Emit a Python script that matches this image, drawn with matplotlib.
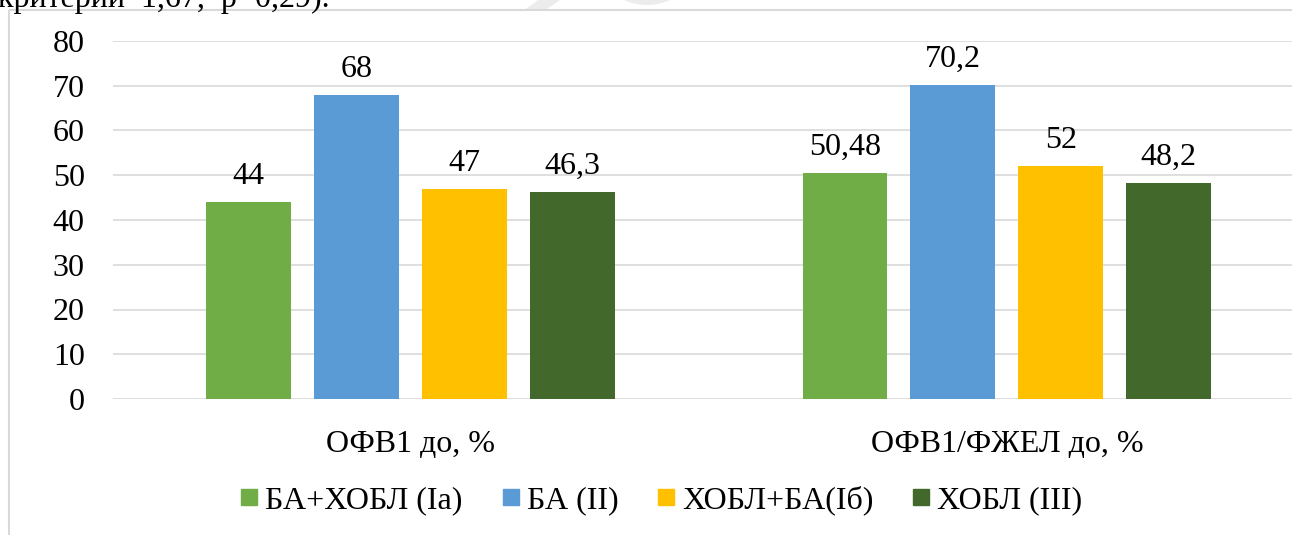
import matplotlib
matplotlib.use("Agg")
import matplotlib.pyplot as plt
import numpy as np
from matplotlib.patches import Rectangle, Circle, Polygon
from matplotlib.lines import Line2D
from matplotlib.transforms import Affine2D

plt.rcParams['font.family'] = ['Liberation Serif', 'DejaVu Serif']

categories = ["ОФВ1 до, %", "ОФВ1/ФЖЕЛ до, %"]
series_names = ["БА+ХОБЛ (Ia)", "БА (II)", "ХОБЛ+БА(Iб)", "ХОБЛ (III)"]
values_ia = [44, 50.48]
values_ii = [68, 70.2]
values_ib = [47, 52]
values_iii = [46.3, 48.2]
label_ia = ["44", "50,48"]
label_ii = ["68", "70,2"]
label_ib = ["47", "52"]
label_iii = ["46,3", "48,2"]
colors = ["#70AD47", "#5B9BD5", "#FFC000", "#43682B"]
y_ticks = [0, 10, 20, 30, 40, 50, 60, 70, 80]

W, H = 1292, 535
fig = plt.figure(figsize=(W / 100, H / 100), dpi=100)
fig.patch.set_facecolor("white")

# pixel transform with origin at the top-left corner
px = Affine2D().scale(1 / W, -1 / H).translate(0, 1) + fig.transFigure

# faint page mark behind the chart
fig.add_artist(Circle((647, -51), 56, transform=px, facecolor="#ececec",
                      edgecolor="none", zorder=0))
fig.add_artist(Polygon([(523, 11), (544, 11), (563, -2), (541, -2)], closed=True,
                       transform=px, facecolor="#ececec", edgecolor="none", zorder=0))

# chart frame (runs past the right and bottom edges)
fig.add_artist(Rectangle((8.5, 10), 1400, 600, transform=px, fill=False,
                         edgecolor="#d9d9d9", linewidth=1.5, zorder=1))

# caption line above the chart, mostly cut off
fig.text(-2 / W, 1 - 7 / H, "критерии  1,67,  р=0,29).", fontsize=23,
         ha="left", va="baseline", color="black")

ax_left, ax_right = 112.5, 1305
ax_top, ax_bottom = 41, 399
ax = fig.add_axes([ax_left / W, (H - ax_bottom) / H,
                   (ax_right - ax_left) / W, (ax_bottom - ax_top) / H])

x = np.arange(len(categories))
bar_w = 0.1425
step = 0.181
all_vals = [values_ia, values_ii, values_ib, values_iii]
all_labels = [label_ia, label_ii, label_ib, label_iii]
for i, (vals, labs) in enumerate(zip(all_vals, all_labels)):
    pos = x + (i - 1.5) * step
    ax.bar(pos, vals, width=bar_w, color=colors[i], zorder=3)
    for p, v, t in zip(pos, vals, labs):
        ax.annotate(t, (p, v), xytext=(0, 13), textcoords="offset points",
                    ha="center", va="baseline", fontsize=23, color="black")

ax.set_xlim(-0.5, 1.5)
ax.set_ylim(0, 80)
ax.set_yticks(y_ticks)
ax.set_yticklabels([str(t) for t in y_ticks], fontsize=23)
ax.set_xticks(x)
ax.set_xticklabels(categories, fontsize=23)
ax.tick_params(axis="y", length=0, pad=20)
ax.tick_params(axis="x", length=0, pad=22)
ax.grid(axis="y", color="#d9d9d9", linewidth=1.2, zorder=0)
for s in ax.spines.values():
    s.set_visible(False)
ax.set_facecolor("none")

handles = [Line2D([], [], linestyle="none", marker="s", markersize=11,
                  markerfacecolor=c, markeredgecolor=c) for c in colors]
fig.legend(handles, series_names, loc="center", bbox_to_anchor=(662 / W, (H - 500) / H),
           ncol=4, frameon=False, fontsize=23, handlelength=0.5,
           handletextpad=0.25, columnspacing=1.25, borderpad=0)

fig.savefig("out.png", dpi=100, facecolor="white")
